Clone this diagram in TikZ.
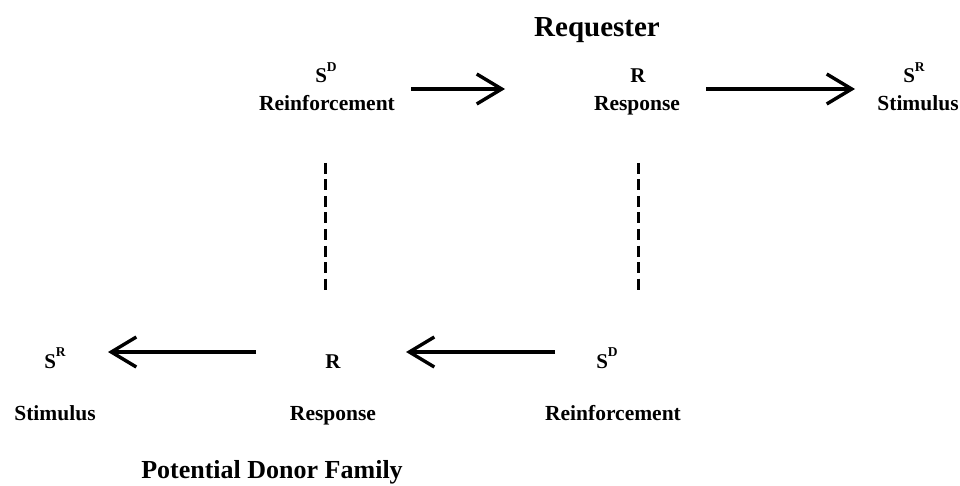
\documentclass[tikz,border=0pt]{standalone}
\usepackage{fontspec}
\setmainfont{Liberation Serif}
\usetikzlibrary{arrows.meta}
\begin{document}
\begin{tikzpicture}[x=1pt,y=-1pt,
  lbl/.style={font=\bfseries\fontsize{21.5}{25}\selectfont, inner sep=0pt, anchor=base},
  sym/.style={font=\bfseries\fontsize{21}{25}\selectfont, inner sep=0pt, anchor=base},
  ttl/.style={font=\bfseries\fontsize{29}{34}\selectfont, inner sep=0pt, anchor=base},
  flow/.style={line width=3.4pt, -{Straight Barb[length=25pt,width=30pt,line width=3.4pt]}},
  link/.style={line width=3pt, dash pattern=on 11pt off 5.5pt}]
\useasboundingbox (0,0) rectangle (960,486);
\newcommand{\supsym}[2]{#1\raisebox{0.55em}{\fontsize{13.5}{15}\selectfont #2}}

% Requester chain
\node[ttl] (req) at (597,37) {Requester};
\node[sym] (a1) at (326,83) {\supsym{S}{D}};
\node[sym] (a2) at (638,83) {R};
\node[sym] (a3) at (914,83) {\supsym{S}{R}};
\node[lbl] (b1) at (327,111) {Reinforcement};
\node[lbl] (b2) at (637,111) {Response};
\node[lbl] (b3) at (918,111) {Stimulus};
\coordinate (ar1s) at (411,89); \coordinate (ar1e) at (505,89);
\coordinate (ar2s) at (706,89); \coordinate (ar2e) at (855,89);
\draw[flow] (ar1s) -- (ar1e);
\draw[flow] (ar2s) -- (ar2e);

% links between the two chains
\coordinate (d1s) at (325,163); \coordinate (d1e) at (325,292);
\coordinate (d2s) at (638,163); \coordinate (d2e) at (638,292);
\draw[link] (d1s) -- (d1e);
\draw[link] (d2s) -- (d2e);

% Potential donor family chain
\node[sym] (c1) at (55,368) {\supsym{S}{R}};
\node[sym] (c2) at (333,368) {R};
\node[sym] (c3) at (607,368) {\supsym{S}{D}};
\node[lbl] (e1) at (55,420) {Stimulus};
\node[lbl] (e2) at (333,420) {Response};
\node[lbl] (e3) at (613,420) {Reinforcement};
\coordinate (ar3s) at (555,352); \coordinate (ar3e) at (406,352);
\coordinate (ar4s) at (256,352); \coordinate (ar4e) at (108,352);
\draw[flow] (ar3s) -- (ar3e);
\draw[flow] (ar4s) -- (ar4e);
\node[ttl, font=\bfseries\fontsize{26}{31}\selectfont] (fam) at (272,478) {Potential Donor Family};
\end{tikzpicture}
\end{document}
